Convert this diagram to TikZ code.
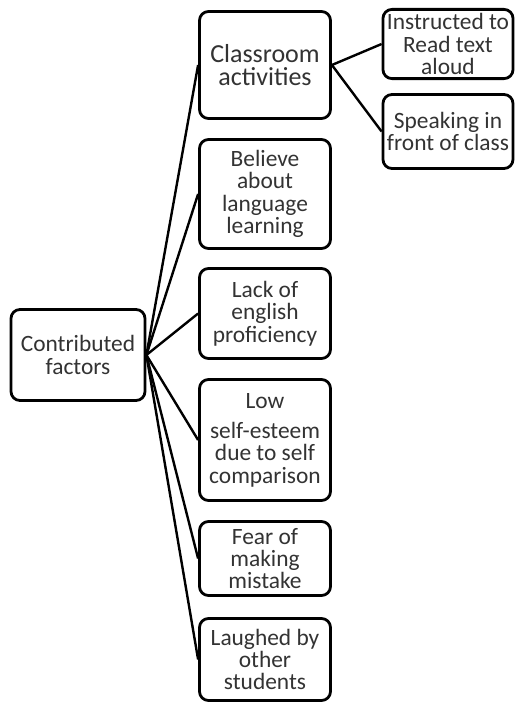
\documentclass[tikz,border=0pt]{standalone}
\usepackage{fontspec}
\setmainfont{Carlito}
\usetikzlibrary{positioning}
\tikzset{
box/.style={draw=black,fill=white,rounded corners=4.5pt,align=center,text=black!80,font=\fontsize{11.7}{11.2}\selectfont,line width=1.4pt,inner sep=2pt},
link/.style={line width=1.2pt,draw=black}}

\begin{document}
\begin{tikzpicture}[x=0.5pt,y=-0.5pt]
\useasboundingbox (0,0) rectangle (515,703);
\node[box,minimum width=67pt,minimum height=45.5pt] (root) at (78,355) {Contributed\\factors};
\node[box,minimum width=65.5pt,minimum height=53.5pt,font=\fontsize{13}{11.5}\selectfont] (class) at (265,65) {Classroom\\activities};
\node[box,minimum width=65.5pt,minimum height=54.5pt] (belief) at (265,194) {Believe\\about\\language\\learning};
\node[box,minimum width=65.5pt,minimum height=45pt] (lack) at (265,313.5) {Lack of\\english\\proficiency};
\node[box,minimum width=65.5pt,minimum height=60.5pt] (esteem) at (265,440) {Low\\[4pt]self-esteem\\due to self\\comparison};
\node[box,minimum width=65.5pt,minimum height=37pt] (fear) at (265,558.5) {Fear of\\making\\mistake};
\node[box,minimum width=65.5pt,minimum height=41pt] (laugh) at (265,659.5) {Laughed by\\other\\students};
\node[box,minimum width=63.5pt,minimum height=34.5pt] (read) at (448,44) {Instructed to\\Read text\\aloud};
\node[box,minimum width=63.5pt,minimum height=37pt] (speak) at (448,131.5) {Speaking in\\front of class};
\foreach \n in {class,belief,lack,esteem,fear,laugh}
  \draw[link] (root.east)--(\n.west);
\draw[link] (class.east)--(read.west);
\draw[link] (class.east)--(speak.west);
\end{tikzpicture}
\end{document}
